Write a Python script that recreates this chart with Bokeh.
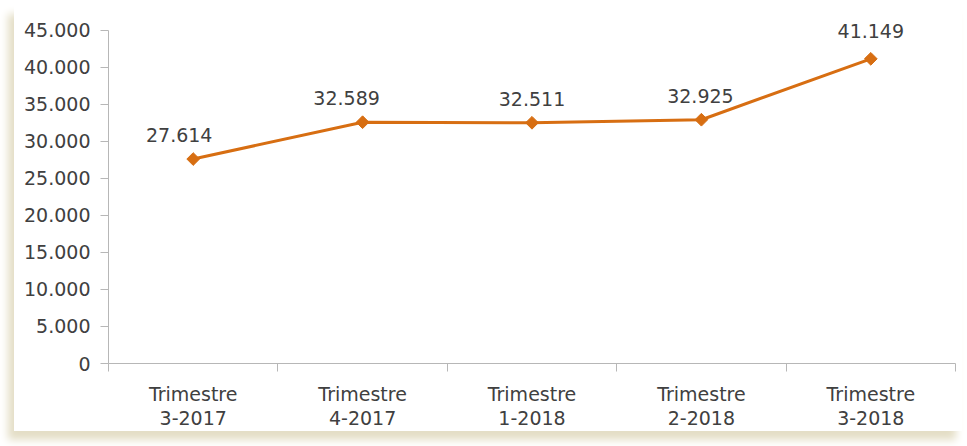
import math
from bokeh.plotting import figure
from bokeh.models import ColumnDataSource, Range1d, FixedTicker, LinearAxis
from bokeh.core.properties import value
from bokeh.embed import file_html
from bokeh.resources import INLINE

categories = ["Trimestre\n3-2017", "Trimestre\n4-2017", "Trimestre\n1-2018",
              "Trimestre\n2-2018", "Trimestre\n3-2018"]
values = [27614, 32589, 32511, 32925, 41149]
label_dx = [-14, -16, 0, -1, 0]
label_dy = [0, 0, 0, 0, -4]
y_ticks = [0, 5000, 10000, 15000, 20000, 25000, 30000, 35000, 40000, 45000]

def fmt(v):
    return f"{v:,}".replace(",", ".")

FONT = "DejaVu Sans"
TXT = "#404040"
AX = "#B7B7B7"
ORANGE = "#D76E12"

xs = [i + 0.5 for i in range(len(categories))]
src = ColumnDataSource(dict(x=xs, y=values, lab=[fmt(v) for v in values],
                            dx=label_dx, dy=[d - 24 for d in label_dy]))

p = figure(frame_width=847, frame_height=348, output_backend="svg", toolbar_location=None,
           x_range=Range1d(0, len(categories)), y_range=Range1d(0, 47000),
           min_border_left=94, min_border_right=7, min_border_top=10, min_border_bottom=68)
p.outline_line_color = None
p.grid.grid_line_color = None
p.background_fill_color = "white"
p.border_fill_color = "white"

line1 = [c.split("\n")[0] for c in categories]
line2 = [c.split("\n")[1] for c in categories]

# x axis (first line of category labels, boundary ticks)
xa = p.xaxis[0]
xa.ticker = FixedTicker(ticks=xs, minor_ticks=list(range(len(categories) + 1)))
xa.major_label_overrides = {x: t for x, t in zip(xs, line1)}
xa.major_tick_line_color = None
xa.major_tick_in = 0
xa.major_tick_out = 0
xa.minor_tick_in = 0
xa.minor_tick_out = 8
xa.minor_tick_line_color = AX
xa.axis_line_color = AX
xa.major_label_text_font = FONT
xa.major_label_text_font_size = "19px"
xa.major_label_text_color = TXT
xa.major_label_standoff = 11

# second x axis (second line of category labels)
xb = LinearAxis(ticker=FixedTicker(ticks=xs, minor_ticks=[]),
                major_label_overrides={x: t for x, t in zip(xs, line2)},
                axis_line_color=None, major_tick_line_color=None,
                minor_tick_line_color=None, major_tick_in=0, major_tick_out=0,
                major_label_text_font=FONT, major_label_text_font_size="19px",
                major_label_text_color=TXT, major_label_standoff=3)
p.add_layout(xb, "below")

# y axis
ya = p.yaxis[0]
ya.bounds = (0, 45000)
ya.ticker = FixedTicker(ticks=y_ticks, minor_ticks=[])
ya.major_label_overrides = {t: fmt(t) for t in y_ticks}
ya.major_tick_in = 0
ya.major_tick_out = 8
ya.major_tick_line_color = AX
ya.axis_line_color = AX
ya.major_label_text_font = FONT
ya.major_label_text_font_size = "19px"
ya.major_label_text_color = TXT
ya.major_label_standoff = 10

p.line("x", "y", source=src, line_color=ORANGE, line_width=3)
p.scatter("x", "y", source=src, marker="square", angle=math.pi / 4, size=9,
          fill_color=ORANGE, line_color=ORANGE)
p.text("x", "y", text="lab", source=src, x_offset="dx", y_offset="dy",
       text_align="center", text_baseline="alphabetic",
       text_font=value(FONT), text_font_size="19px", text_color=TXT)

p.styles = {"margin": "5px 0px 0px 14px", "box-shadow": "-6px 9px 8px 0px #e4dec6"}

open("out.html", "w").write(file_html(p, INLINE))
